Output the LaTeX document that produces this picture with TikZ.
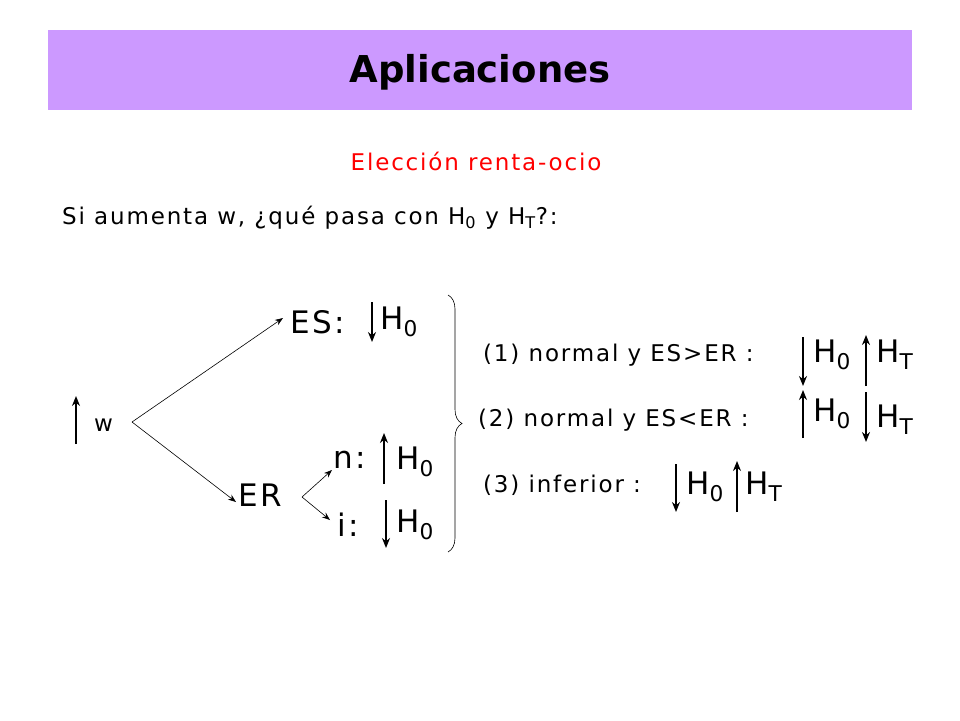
\documentclass[tikz,border=0pt]{standalone}
\usepackage{fontspec}
\setmainfont{DejaVu Sans}[LetterSpace=8]
\usetikzlibrary{decorations.pathreplacing,arrows.meta}
\begin{document}
\begin{tikzpicture}[x=1pt,y=-1pt,
  txt/.style={anchor=west,inner sep=0pt,font=\fontsize{23}{26}\selectfont},
  big/.style={anchor=west,inner sep=0pt,font=\fontsize{31}{34}\selectfont},
  arr/.style={-{Stealth[length=10pt,width=8pt]},line width=1.6pt},
  thin/.style={-{Stealth[length=8pt,width=6pt]},line width=0.6pt}]
\useasboundingbox (0,0) rectangle (960,720);
\fill[fill=white] (0,0) rectangle (960,720);
\node[fill={rgb,255:red,204;green,153;blue,255},minimum width=864pt,minimum height=80pt,anchor=north west,inner sep=0pt] (hdr) at (48,30) {};
\node[font=\fontsize{37}{40}\selectfont\bfseries\addfontfeature{LetterSpace=0}] (title) at (480,72) {Aplicaciones};
\node[text=red,font=\fontsize{23}{26}\selectfont] (sub) at (476,161) {Elección renta-ocio};
\node[txt] (q) at (62,218) {Si aumenta w, ¿qué pasa con H\textsubscript{0} y H\textsubscript{T}?:};
% tree
\coordinate (wb) at (76,444); \coordinate (wt) at (76,396);
\draw[arr] (wb) -- (wt);
\node[txt] (w) at (94,425) {w};
\coordinate (root) at (132,422);
\node[big] (es) at (290,322) {ES:};
\draw[thin] (root) -- (283,318);
\coordinate (esb) at (372,302); \coordinate (ese) at (372,342);
\draw[arr] (esb) -- (ese);
\node[big] (esh) at (380,322) {H\textsubscript{0}};
\node[big] (er) at (238,495) {ER};
\draw[thin] (root) -- (236,502);
\coordinate (erp) at (302,497);
\node[big] (n) at (333,460) {n:};
\node[big] (i) at (337,525) {i:};
\draw[thin] (erp) -- (332,470);
\draw[thin] (erp) -- (330,520);
\coordinate (nb) at (384,484); \coordinate (nt) at (384,433);
\draw[arr] (nb) -- (nt);
\node[big] (nh) at (396,462) {H\textsubscript{0}};
\coordinate (ib) at (386,500); \coordinate (ie) at (386,548);
\draw[arr] (ib) -- (ie);
\node[big] (ih) at (396,525) {H\textsubscript{0}};
% brace
\coordinate (bt) at (448,295); \coordinate (bb) at (448,552);
\draw[decorate,decoration={brace,amplitude=14pt},line width=0.6pt] (bt) -- (bb);
% right side
\node[txt] (r1) at (483,355) {(1) normal y ES>ER :};
\coordinate (a1) at (803,337); \coordinate (a1e) at (803,386);
\draw[arr] (a1) -- (a1e);
\node[big] (h1a) at (813,355) {H\textsubscript{0}};
\coordinate (b1) at (866,386); \coordinate (b1e) at (866,335);
\draw[arr] (b1) -- (b1e);
\node[big] (h1b) at (876,355) {H\textsubscript{T}};
\node[txt] (r2) at (478,420) {(2) normal y ES<ER :};
\coordinate (a2) at (803,438); \coordinate (a2e) at (803,390);
\draw[arr] (a2) -- (a2e);
\node[big] (h2a) at (813,414) {H\textsubscript{0}};
\coordinate (b2) at (866,392); \coordinate (b2e) at (866,442);
\draw[arr] (b2) -- (b2e);
\node[big] (h2b) at (876,420) {H\textsubscript{T}};
\node[txt] (r3) at (483,485) {(3) inferior :};
\coordinate (a3) at (676,464); \coordinate (a3e) at (676,512);
\draw[arr] (a3) -- (a3e);
\node[big] (h3a) at (686,487) {H\textsubscript{0}};
\coordinate (b3) at (737,512); \coordinate (b3e) at (737,461);
\draw[arr] (b3) -- (b3e);
\node[big] (h3b) at (745,487) {H\textsubscript{T}};
\end{tikzpicture}
\end{document}
